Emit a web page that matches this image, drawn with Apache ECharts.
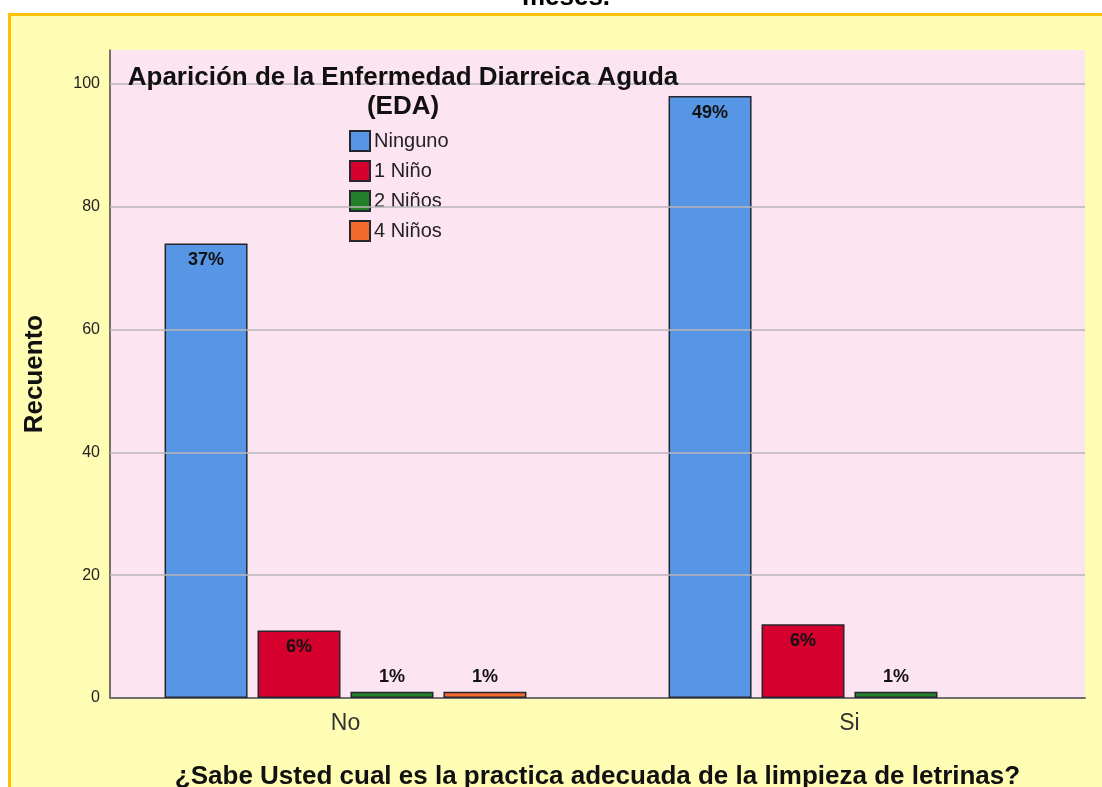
<!DOCTYPE html>
<html>
<head>
<meta charset="utf-8">
<title>EDA - limpieza de letrinas</title>
<script src="https://cdn.jsdelivr.net/npm/echarts@6/dist/echarts.min.js"></script>
<style>
  body { margin:0; background:#fff; }
  #marco { position:absolute; left:8px; top:13px; width:1200px; height:900px;
           border-top:3px solid #ffc000; border-left:3px solid #ffc000; background:#fffdb4; }
  #chart { position:absolute; left:0; top:0; width:1102px; height:787px; }
</style>
</head>
<body>
<div id="marco"></div>
<div id="chart"></div>
<script type="text/javascript">
  // datos
  var categorias = ['No', 'Si'];
  var nombres = ['Ninguno', '1 Niño', '2 Niños', '4 Niños'];
  var ninguno = [74, 98];
  var unNino = [11, 12];
  var dosNinos = [1, 1];
  var cuatroNinos = [1, null];
  var pctNinguno = ['37%', '49%'];
  var pctUnNino = ['6%', '6%'];
  var pctDosNinos = ['1%', '1%'];
  var pctCuatroNinos = ['1%', ''];
  var yTicks = [0, 20, 40, 60, 80, 100];

  var colores = ['#5796e4', '#d6002f', '#22802a', '#f26a2c'];
  var valores = [ninguno, unNino, dosNinos, cuatroNinos];
  var pcts = [pctNinguno, pctUnNino, pctDosNinos, pctCuatroNinos];

  var chart = echarts.init(document.getElementById('chart'));
  var fuente = 'Liberation Sans';

  var series = [{
    name: 'grid',
    type: 'line',
    xAxisIndex: 0,
    yAxisIndex: 0,
    data: [],
    z: 1,
    silent: true,
    markLine: {
      silent: true,
      symbol: 'none',
      label: { show: false },
      lineStyle: { color: '#b9b6b8', width: 1.5, type: 'solid' },
      data: yTicks.filter(function (v) { return v > 0; }).map(function (v) { return { yAxis: v }; })
    }
  }];

  nombres.forEach(function (n, k) {
    series.push({
      name: n,
      type: 'bar',
      xAxisIndex: 1,
      yAxisIndex: 1,
      barWidth: 83,
      barGap: '12%',
      z: 3,
      itemStyle: { color: colores[k], borderColor: '#26262e', borderWidth: 1.5 },
      label: {
        show: true,
        fontFamily: fuente,
        fontWeight: 'bold',
        fontSize: 18,
        color: '#111',
        position: 'top',
        distance: 6,
        formatter: function (p) { return pcts[k][p.dataIndex]; }
      },
      data: valores[k].map(function (v) {
        if (v == null) return null;
        return v >= 5 ? { value: v, label: { position: 'insideTop', distance: 8 } } : v;
      })
    });
  });

  var option = {
    animation: false,
    textStyle: { fontFamily: fuente },
    title: [{
      text: 'meses.',
      left: 561,
      textAlign: 'center',
      top: -20,
      textStyle: { fontSize: 26, fontWeight: 'bold', color: '#000', fontFamily: fuente }
    }, {
      text: 'Aparición de la Enfermedad Diarreica Aguda\n(EDA)',
      left: 398,
      textAlign: 'center',
      top: 58,
      textStyle: { fontSize: 26, fontWeight: 'bold', color: '#111', lineHeight: 29, fontFamily: fuente }
    }],
    legend: {
      data: nombres,
      orient: 'vertical',
      left: 349,
      top: 130,
      padding: 0,
      itemWidth: 20,
      itemHeight: 20,
      itemGap: 8,
      icon: 'rect',
      textStyle: { fontSize: 20, lineHeight: 20, color: '#222', fontFamily: fuente, padding: [0, 0, 0, -1] }
    },
    grid: [{
      left: 110, right: 17, top: 50, bottom: 89,
      outerBoundsMode: 'none',
      show: true, backgroundColor: '#fce4f0', borderWidth: 0
    }, {
      left: 93.5, right: 0.5, top: 50, bottom: 89,
      outerBoundsMode: 'none'
    }],
    xAxis: [{
      type: 'category',
      gridIndex: 0,
      data: categorias,
      axisLine: { show: true, lineStyle: { color: '#707070', width: 2 } },
      axisTick: { show: false },
      axisLabel: { show: false },
      name: '¿Sabe Usted cual es la practica adecuada de la limpieza de letrinas?',
      nameLocation: 'middle',
      nameGap: 66,
      nameTextStyle: { fontSize: 26, fontWeight: 'bold', color: '#111', fontFamily: fuente }
    }, {
      type: 'category',
      gridIndex: 1,
      data: categorias,
      axisLine: { show: false },
      axisTick: { show: false },
      axisLabel: { fontSize: 23, color: '#333', margin: 14, fontFamily: fuente }
    }],
    yAxis: [{
      type: 'value',
      gridIndex: 0,
      min: 0,
      max: 105.5,
      interval: 20,
      axisLine: { show: true, lineStyle: { color: '#444', width: 1.5 } },
      axisTick: { show: false },
      splitLine: { show: false },
      axisLabel: {
        fontSize: 16, color: '#222', margin: 10, fontFamily: fuente,
        formatter: function (v) { return yTicks.indexOf(v) >= 0 ? String(v) : ''; }
      },
      name: 'Recuento',
      nameLocation: 'middle',
      nameGap: 62,
      nameTextStyle: { fontSize: 26, fontWeight: 'bold', color: '#111', fontFamily: fuente }
    }, {
      type: 'value',
      gridIndex: 1,
      min: 0,
      max: 105.5,
      show: false,
      splitLine: { show: false }
    }],
    series: series
  };

  chart.setOption(option);
</script>
</body>
</html>
